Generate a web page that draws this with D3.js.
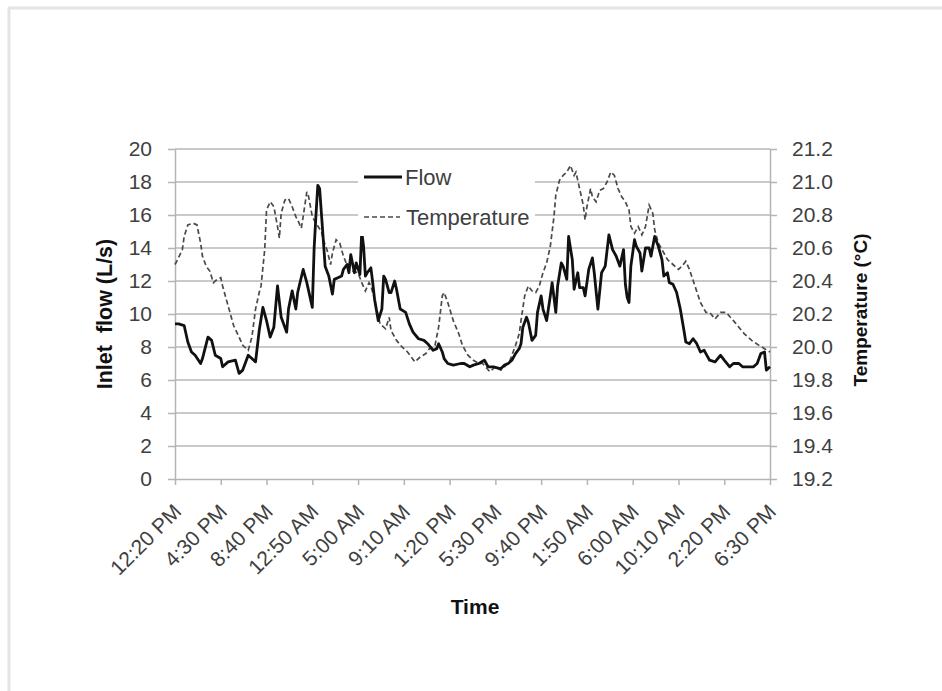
<!DOCTYPE html>
<html>
<head>
<meta charset="utf-8">
<script src="https://cdn.jsdelivr.net/npm/d3@7/dist/d3.min.js"></script>
<style>
  html, body { margin: 0; padding: 0; background: #fff; }
  svg { display: block; font-family: "Liberation Sans", Arial, sans-serif; }
</style>
</head>
<body>
<svg id="chart" width="942" height="691"></svg>
<script>
// samples are 10-minute steps counted from 12:20 PM on the first day
const timeLabels = ['12:20 PM', '4:30 PM', '8:40 PM', '12:50 AM', '5:00 AM', '9:10 AM', '1:20 PM',
  '5:30 PM', '9:40 PM', '1:50 AM', '6:00 AM', '10:10 AM', '2:20 PM', '6:30 PM'];
const labelEvery = 25; // one label each 250 min

const flowStep = [0, 2, 5, 7, 9, 11, 14, 15, 18, 20, 22, 25, 26, 29, 33, 35, 37, 40, 42, 44, 46, 48, 50, 52, 54, 56, 58,
  61, 62, 64, 66, 67, 70, 72, 75, 76, 77, 78, 79, 81, 82, 84, 86, 87, 89, 91, 92, 94, 95, 96, 98, 99, 101, 102, 103,
  104, 105, 107, 108, 109, 111, 113, 114, 115, 117, 118, 120, 121, 123, 126, 128, 130, 133, 136, 138, 141, 143, 144,
  146, 147, 149, 152, 156, 158, 161, 163, 166, 169, 171, 174, 177, 178, 180, 182, 184, 186, 188, 189, 190, 192, 193,
  195, 197, 198, 200, 201, 203, 205, 206, 208, 209, 211, 212, 214, 215, 217, 218, 220, 221, 223, 224, 226, 228, 229,
  231, 233, 235, 237, 239, 241, 243, 245, 246, 247, 248, 249, 251, 252, 254, 255, 257, 259, 260, 262, 264, 266, 267,
  269, 270, 272, 274, 276, 278, 279, 281, 283, 285, 287, 289, 290, 292, 295, 298, 300, 303, 305, 308, 310, 313, 316,
  318, 320, 322, 323, 325];
const flowLps = [9.4, 9.4, 9.3, 8.3, 7.7, 7.5, 7.0, 7.3, 8.6, 8.4, 7.5, 7.3, 6.8, 7.1, 7.2, 6.4, 6.6, 7.5, 7.3, 7.1, 9.0,
  10.4, 9.6, 8.6, 9.2, 11.7, 9.8, 8.9, 10.3, 11.4, 10.3, 11.3, 12.7, 11.9, 10.4, 14.0, 16.0, 17.8, 17.6, 14.5, 12.9,
  12.3, 11.2, 12.1, 12.2, 12.3, 12.7, 13.0, 12.5, 13.6, 12.5, 13.1, 12.4, 15.0, 14.1, 12.3, 12.5, 12.8, 11.9, 10.9,
  9.6, 10.3, 12.3, 12.1, 11.3, 11.3, 12.0, 11.5, 10.3, 10.1, 9.4, 8.9, 8.5, 8.4, 8.2, 7.8, 7.9, 8.2, 7.7, 7.3, 7.0,
  6.9, 7.0, 7.0, 6.8, 6.9, 7.0, 7.2, 6.8, 6.8, 6.7, 6.7, 6.9, 7.0, 7.2, 7.6, 7.9, 8.2, 9.2, 9.8, 9.5, 8.4, 8.7, 10.1,
  11.1, 10.3, 9.6, 11.1, 11.9, 10.1, 11.7, 13.1, 12.9, 12.1, 14.7, 13.3, 11.5, 12.5, 11.6, 11.6, 11.1, 12.7, 13.4,
  12.5, 10.3, 12.5, 12.9, 14.8, 13.9, 13.5, 12.9, 13.9, 11.8, 11.0, 10.7, 12.9, 14.5, 14.1, 13.7, 12.6, 14.0, 14.0,
  13.5, 14.7, 14.1, 13.3, 12.3, 12.5, 11.9, 11.8, 11.3, 10.3, 9.0, 8.3, 8.2, 8.5, 8.2, 7.7, 7.8, 7.6, 7.2, 7.1, 7.5,
  7.2, 6.8, 7.0, 7.0, 6.8, 6.8, 6.8, 7.0, 7.6, 7.7, 6.6, 6.8];

const tempStep = [0, 1, 4, 5, 7, 10, 12, 14, 15, 17, 19, 21, 23, 25, 26, 29, 32, 35, 37, 40, 42, 44, 46, 47, 49, 50, 52,
  54, 55, 56, 57, 58, 60, 62, 64, 66, 67, 69, 70, 72, 73, 75, 77, 80, 81, 83, 85, 86, 88, 90, 92, 95, 97, 100, 102,
  104, 106, 107, 109, 112, 115, 117, 118, 121, 124, 127, 129, 131, 134, 137, 139, 142, 144, 146, 147, 149, 152, 155,
  157, 160, 163, 166, 168, 172, 175, 178, 180, 183, 186, 188, 189, 191, 193, 195, 197, 199, 201, 203, 205, 207, 208,
  210, 212, 214, 216, 218, 219, 221, 223, 224, 225, 227, 228, 230, 232, 234, 236, 238, 240, 242, 244, 246, 248, 249,
  251, 253, 255, 257, 259, 261, 262, 264, 267, 269, 272, 275, 277, 279, 281, 284, 287, 290, 292, 295, 298, 301, 305,
  308, 311, 315, 319, 322, 325];
const tempC = [20.50, 20.52, 20.59, 20.67, 20.74, 20.75, 20.74, 20.63, 20.55, 20.49, 20.46, 20.39, 20.41, 20.42, 20.37,
  20.25, 20.13, 20.06, 20.01, 19.98, 20.06, 20.23, 20.33, 20.37, 20.59, 20.83, 20.88, 20.85, 20.79, 20.73, 20.66,
  20.81, 20.89, 20.90, 20.85, 20.79, 20.77, 20.72, 20.79, 20.94, 20.91, 20.79, 20.75, 20.70, 20.65, 20.59, 20.50,
  20.57, 20.65, 20.63, 20.55, 20.47, 20.46, 20.45, 20.39, 20.34, 20.39, 20.37, 20.29, 20.14, 20.11, 20.18, 20.10,
  20.04, 20.00, 19.97, 19.94, 19.91, 19.94, 19.96, 19.99, 20.01, 20.12, 20.31, 20.33, 20.27, 20.16, 20.08, 20.01,
  19.95, 19.92, 19.90, 19.90, 19.85, 19.88, 19.86, 19.88, 19.92, 20.01, 20.08, 20.16, 20.31, 20.37, 20.34, 20.33,
  20.37, 20.45, 20.51, 20.61, 20.79, 20.92, 21.01, 21.04, 21.06, 21.10, 21.04, 21.06, 20.96, 20.86, 20.77, 20.85,
  20.96, 20.91, 20.88, 20.95, 20.96, 21.00, 21.06, 21.04, 20.96, 20.91, 20.88, 20.83, 20.73, 20.69, 20.73, 20.68,
  20.73, 20.86, 20.81, 20.71, 20.63, 20.57, 20.53, 20.50, 20.47, 20.49, 20.52, 20.47, 20.37, 20.27, 20.21, 20.21,
  20.17, 20.21, 20.21, 20.16, 20.12, 20.08, 20.04, 20.01, 19.99, 19.97];

const flowTicks = [0, 2, 4, 6, 8, 10, 12, 14, 16, 18, 20];
const tempTicks = [19.2, 19.4, 19.6, 19.8, 20.0, 20.2, 20.4, 20.6, 20.8, 21.0, 21.2];

const svg = d3.select('#chart');
const plotLeft = 175, plotRight = 770, plotTop = 149, plotBottom = 479;
const gray = '#404040';

// light frame of the original picture
svg.append('line').attr('x1', 9).attr('y1', 8).attr('x2', 9).attr('y2', 691)
  .attr('stroke', '#e4e4e4').attr('stroke-width', 3);
svg.append('line').attr('x1', 8).attr('y1', 8).attr('x2', 942).attr('y2', 8)
  .attr('stroke', '#e4e4e4').attr('stroke-width', 3);

const x = d3.scaleLinear().domain([0, 325]).range([plotLeft, plotRight]);
const yFlow = d3.scaleLinear().domain([0, 20]).range([plotBottom, plotTop]);
const yTemp = d3.scaleLinear().domain([19.2, 21.2]).range([plotBottom, plotTop]);

// gridlines
svg.append('g')
  .selectAll('line')
  .data(flowTicks.slice(1))
  .join('line')
  .attr('x1', plotLeft).attr('x2', plotRight)
  .attr('y1', d => yFlow(d)).attr('y2', d => yFlow(d))
  .attr('stroke', '#c9c9c9').attr('stroke-width', 2);

const styleAxis = g => {
  g.select('.domain').attr('stroke', '#b4b4b4').attr('stroke-width', 1.5);
  g.selectAll('.tick line').attr('stroke', '#b4b4b4').attr('stroke-width', 1.5);
  g.selectAll('.tick text').attr('fill', gray).style('font-size', '21px');
};

svg.append('g')
  .attr('transform', `translate(${plotLeft},0)`)
  .call(d3.axisLeft(yFlow).tickValues(flowTicks).tickSize(7).tickPadding(16).tickSizeOuter(0))
  .call(styleAxis);

svg.append('g')
  .attr('transform', `translate(${plotRight},0)`)
  .call(d3.axisRight(yTemp).tickValues(tempTicks).tickSize(7).tickPadding(15).tickSizeOuter(0)
    .tickFormat(d3.format('.1f')))
  .call(styleAxis);

const xAxis = svg.append('g')
  .attr('transform', `translate(0,${plotBottom})`)
  .call(d3.axisBottom(x)
    .tickValues(timeLabels.map((d, i) => i * labelEvery))
    .tickSize(6).tickSizeOuter(0)
    .tickFormat((d, i) => timeLabels[i]))
  .call(styleAxis);

xAxis.selectAll('.tick text')
  .attr('y', 0).attr('dy', 0)
  .attr('text-anchor', 'end')
  .attr('transform', 'translate(7,34) rotate(-45)');

// series
const flowLine = d3.line().x((d, i) => x(flowStep[i])).y(d => yFlow(d));
const tempLine = d3.line().x((d, i) => x(tempStep[i])).y(d => yTemp(d));

svg.append('path')
  .attr('d', tempLine(tempC))
  .attr('fill', 'none')
  .attr('stroke', '#4a4a4a')
  .attr('stroke-width', 1.7)
  .attr('stroke-dasharray', '5,3');

svg.append('path')
  .attr('d', flowLine(flowLps))
  .attr('fill', 'none')
  .attr('stroke', '#111')
  .attr('stroke-width', 2.8)
  .attr('stroke-linejoin', 'round');

// legend
const legend = svg.append('g');
legend.append('rect').attr('x', 358).attr('y', 158).attr('width', 177).attr('height', 78).attr('fill', '#fff');
legend.append('line').attr('x1', 364).attr('x2', 402).attr('y1', 177).attr('y2', 177)
  .attr('stroke', '#111').attr('stroke-width', 2.8);
legend.append('text').attr('x', 405).attr('y', 185).text('Flow')
  .attr('fill', gray).style('font-size', '22px');
legend.append('line').attr('x1', 364).attr('x2', 400).attr('y1', 217).attr('y2', 217)
  .attr('stroke', '#4a4a4a').attr('stroke-width', 1.7).attr('stroke-dasharray', '5,3');
legend.append('text').attr('x', 406).attr('y', 225).text('Temperature')
  .attr('fill', gray).style('font-size', '22px');

// axis titles
svg.append('text')
  .attr('transform', 'translate(112,314) rotate(-90)')
  .attr('text-anchor', 'middle')
  .style('font-size', '21.5px').style('font-weight', 'bold')
  .attr('fill', '#111')
  .text('Inlet\u00a0 flow (L/s)');

svg.append('text')
  .attr('transform', 'translate(867,310) rotate(-90)')
  .attr('text-anchor', 'middle')
  .style('font-size', '19px').style('font-weight', 'bold')
  .attr('fill', '#111')
  .text('Temperature (°C)');

svg.append('text')
  .attr('x', 475).attr('y', 614)
  .attr('text-anchor', 'middle')
  .style('font-size', '21px').style('font-weight', 'bold')
  .attr('fill', '#111')
  .text('Time');
</script>
</body>
</html>
